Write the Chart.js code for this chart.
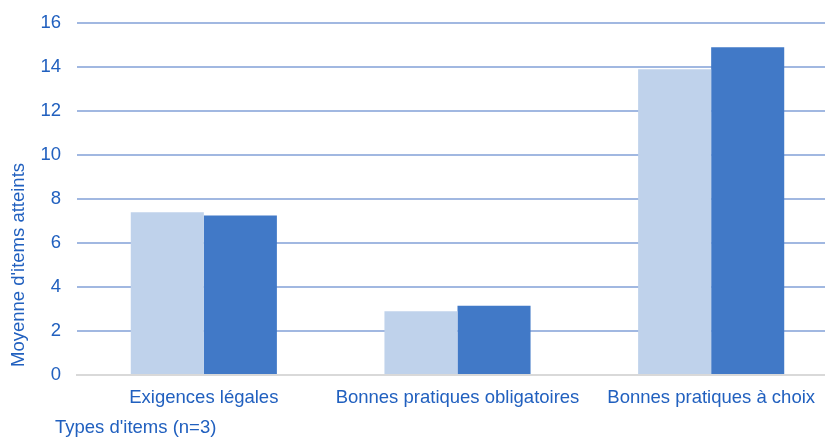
<!DOCTYPE html>
<html>
<head>
<meta charset="utf-8">
<script src="https://cdn.jsdelivr.net/npm/chart.js@4/dist/chart.umd.min.js"></script>
<style>
    html, body { margin: 0; padding: 0; background: #fff; overflow: hidden; }
    .wrap { position: relative; width: 840px; height: 437px; }
</style>
</head>
<body>
<div class="wrap"><canvas id="chart"></canvas></div>
<script>
// data
const categories = ['Exigences légales', 'Bonnes pratiques obligatoires', 'Bonnes pratiques à choix'];
const seriesLight = [7.4, 2.9, 13.9];
const seriesDark = [7.25, 3.15, 14.9];
const yTicks = [0, 2, 4, 6, 8, 10, 12, 14, 16];

const TEXT = '#2160bf';
const FONT = { family: 'Liberation Sans, Arial, sans-serif', size: 18.5 };

// axis titles sit off-centre in the reference, so they are drawn by hand
const axisTitles = {
    id: 'axisTitles',
    afterDraw(chart) {
        const c = chart.ctx;
        c.save();
        c.fillStyle = TEXT;
        c.font = `${FONT.size}px ${FONT.family}`;
        c.textBaseline = 'middle';
        c.textAlign = 'left';
        c.fillText("Types d'items (n=3)", 55, 428);
        c.translate(19, 265);
        c.rotate(-Math.PI / 2);
        c.textAlign = 'center';
        c.fillText("Moyenne d'items atteints", 0, 0);
        c.restore();
    }
};

new Chart(document.getElementById('chart').getContext('2d'), {
    type: 'bar',
    data: {
        labels: categories,
        datasets: [
            { data: seriesLight, backgroundColor: '#bfd2eb', categoryPercentage: 0.576, barPercentage: 1 },
            { data: seriesDark, backgroundColor: '#4179c7', categoryPercentage: 0.576, barPercentage: 1 }
        ]
    },
    options: {
        responsive: true,
        maintainAspectRatio: false,
        animation: false,
        layout: { padding: { top: 23, right: 2, bottom: 0, left: 0 } },
        plugins: { legend: { display: false }, tooltip: { enabled: false } },
        scales: {
            x: {
                afterFit: s => { s.height = 62; },
                grid: { display: false, drawTicks: false },
                border: { color: '#d9d9d9', width: 2 },
                ticks: { color: TEXT, font: FONT, padding: 12, maxRotation: 0, autoSkip: false }
            },
            y: {
                min: 0, max: 16,
                z: 1,
                afterFit: s => { s.width = 77; s.paddingTop = 0; s.paddingBottom = 0; },
                afterBuildTicks: s => { s.ticks = yTicks.map(v => ({ value: v })); },
                border: { display: false },
                grid: {
                    drawTicks: false,
                    lineWidth: 2,
                    color: ctx => ctx.tick && ctx.tick.value === 0 ? 'rgba(0,0,0,0)' : 'rgba(68,114,196,0.5)'
                },
                ticks: { color: TEXT, font: FONT, padding: 16 }
            }
        }
    },
    plugins: [axisTitles]
});
</script>
</body>
</html>
